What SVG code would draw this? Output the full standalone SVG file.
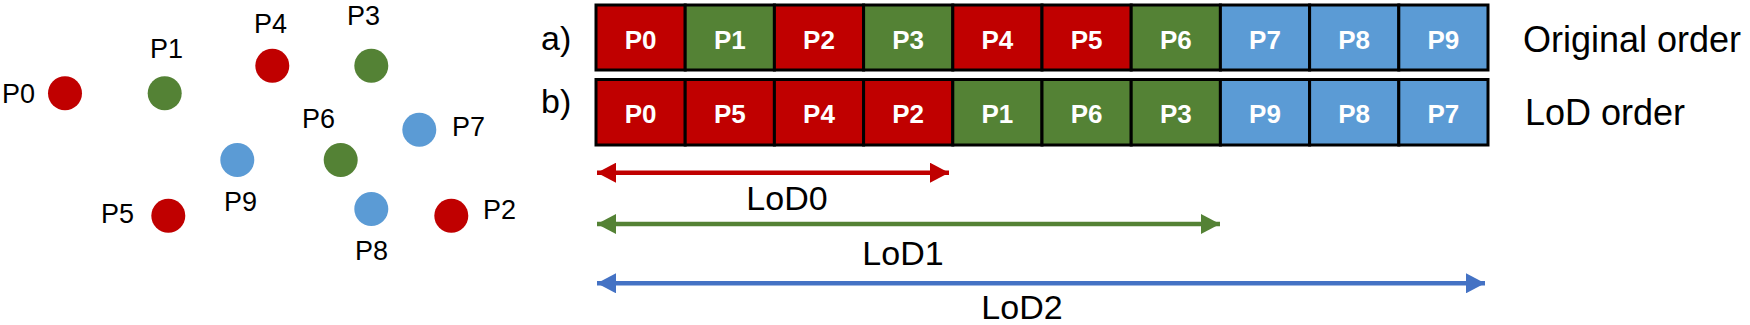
<svg xmlns="http://www.w3.org/2000/svg" width="1750" height="325" viewBox="0 0 1750 325">
<style>
.lbl{font-family:"Liberation Sans",Arial,sans-serif;font-size:27px;fill:#000}
.big{font-family:"Liberation Sans",Arial,sans-serif;font-size:36px;fill:#000}
.lod{font-family:"Liberation Sans",Arial,sans-serif;font-size:34px;fill:#000;text-anchor:middle}
.cell{stroke:#000;stroke-width:3}
.ct{font-family:"Liberation Sans",Arial,sans-serif;font-size:26px;font-weight:bold;fill:#fff;text-anchor:middle}
.r{fill:#C00000}.g{fill:#548235}.b{fill:#5B9BD5}
.arr{stroke-width:4.5;fill:none}
</style>
<defs>
<marker id="mr" viewBox="0 0 19 20" refX="19" refY="10" markerWidth="19" markerHeight="20" markerUnits="userSpaceOnUse" orient="auto-start-reverse"><path d="M0,0 L19,10 L0,20 z" fill="#C00000"/></marker>
<marker id="mg" viewBox="0 0 19 20" refX="19" refY="10" markerWidth="19" markerHeight="20" markerUnits="userSpaceOnUse" orient="auto-start-reverse"><path d="M0,0 L19,10 L0,20 z" fill="#548235"/></marker>
<marker id="mb" viewBox="0 0 19 20" refX="19" refY="10" markerWidth="19" markerHeight="20" markerUnits="userSpaceOnUse" orient="auto-start-reverse"><path d="M0,0 L19,10 L0,20 z" fill="#4472C4"/></marker>
</defs>

<g id="points">
<g id="pt-P0"><circle class="r" cx="65" cy="93.3" r="17"/><text class="lbl" x="2" y="103">P0</text></g>
<g id="pt-P1"><circle class="g" cx="164.7" cy="93.3" r="17"/><text class="lbl" x="150" y="58">P1</text></g>
<g id="pt-P4"><circle class="r" cx="272.3" cy="65.7" r="17"/><text class="lbl" x="254" y="33">P4</text></g>
<g id="pt-P3"><circle class="g" cx="371.3" cy="65.7" r="17"/><text class="lbl" x="347" y="25">P3</text></g>
<g id="pt-P6"><circle class="g" cx="340.7" cy="160" r="17"/><text class="lbl" x="302" y="128">P6</text></g>
<g id="pt-P7"><circle class="b" cx="419.3" cy="129.7" r="17"/><text class="lbl" x="452" y="136">P7</text></g>
<g id="pt-P9"><circle class="b" cx="237.3" cy="160" r="17"/><text class="lbl" x="224" y="211">P9</text></g>
<g id="pt-P5"><circle class="r" cx="168.3" cy="215.7" r="17"/><text class="lbl" x="101" y="222.5">P5</text></g>
<g id="pt-P8"><circle class="b" cx="371.3" cy="209" r="17"/><text class="lbl" x="355" y="260">P8</text></g>
<g id="pt-P2"><circle class="r" cx="451.3" cy="215.7" r="17"/><text class="lbl" x="483" y="218.5">P2</text></g>
</g>

<g id="row-a">
<text class="big" x="541" y="50" style="font-size:34px">a)</text>
<rect class="cell r" x="596" y="5" width="89.2" height="65"/><text class="ct" x="640.6" y="48.5">P0</text>
<rect class="cell g" x="685.2" y="5" width="89.2" height="65"/><text class="ct" x="729.8" y="48.5">P1</text>
<rect class="cell r" x="774.4" y="5" width="89.2" height="65"/><text class="ct" x="819" y="48.5">P2</text>
<rect class="cell g" x="863.6" y="5" width="89.2" height="65"/><text class="ct" x="908.2" y="48.5">P3</text>
<rect class="cell r" x="952.8" y="5" width="89.2" height="65"/><text class="ct" x="997.4" y="48.5">P4</text>
<rect class="cell r" x="1042" y="5" width="89.2" height="65"/><text class="ct" x="1086.6" y="48.5">P5</text>
<rect class="cell g" x="1131.2" y="5" width="89.2" height="65"/><text class="ct" x="1175.8" y="48.5">P6</text>
<rect class="cell b" x="1220.4" y="5" width="89.2" height="65"/><text class="ct" x="1265" y="48.5">P7</text>
<rect class="cell b" x="1309.6" y="5" width="89.2" height="65"/><text class="ct" x="1354.2" y="48.5">P8</text>
<rect class="cell b" x="1398.8" y="5" width="89.2" height="65"/><text class="ct" x="1443.4" y="48.5">P9</text>
<text class="big" x="1523" y="52">Original order</text>
</g>

<g id="row-b">
<text class="big" x="541" y="113" style="font-size:34px">b)</text>
<rect class="cell r" x="596" y="79.5" width="89.2" height="65.5"/><text class="ct" x="640.6" y="123">P0</text>
<rect class="cell r" x="685.2" y="79.5" width="89.2" height="65.5"/><text class="ct" x="729.8" y="123">P5</text>
<rect class="cell r" x="774.4" y="79.5" width="89.2" height="65.5"/><text class="ct" x="819" y="123">P4</text>
<rect class="cell r" x="863.6" y="79.5" width="89.2" height="65.5"/><text class="ct" x="908.2" y="123">P2</text>
<rect class="cell g" x="952.8" y="79.5" width="89.2" height="65.5"/><text class="ct" x="997.4" y="123">P1</text>
<rect class="cell g" x="1042" y="79.5" width="89.2" height="65.5"/><text class="ct" x="1086.6" y="123">P6</text>
<rect class="cell g" x="1131.2" y="79.5" width="89.2" height="65.5"/><text class="ct" x="1175.8" y="123">P3</text>
<rect class="cell b" x="1220.4" y="79.5" width="89.2" height="65.5"/><text class="ct" x="1265" y="123">P9</text>
<rect class="cell b" x="1309.6" y="79.5" width="89.2" height="65.5"/><text class="ct" x="1354.2" y="123">P8</text>
<rect class="cell b" x="1398.8" y="79.5" width="89.2" height="65.5"/><text class="ct" x="1443.4" y="123">P7</text>
<text class="big" x="1525" y="125">LoD order</text>
</g>

<g id="connectors">
<line class="arr" x1="597" y1="172.7" x2="949" y2="172.7" stroke="#C00000" marker-start="url(#mr)" marker-end="url(#mr)"/>
<line class="arr" x1="597" y1="224" x2="1220" y2="224" stroke="#548235" marker-start="url(#mg)" marker-end="url(#mg)"/>
<line class="arr" x1="597" y1="283.3" x2="1485" y2="283.3" stroke="#4472C4" marker-start="url(#mb)" marker-end="url(#mb)"/>
</g>

<g id="lod-labels">
<text class="lod" x="787" y="210">LoD0</text>
<text class="lod" x="903" y="265">LoD1</text>
<text class="lod" x="1022" y="319">LoD2</text>
</g>
</svg>
